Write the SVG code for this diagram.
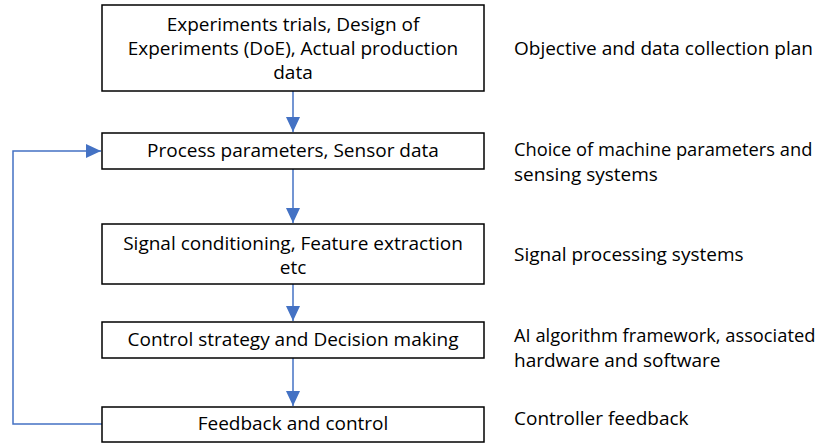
<svg xmlns="http://www.w3.org/2000/svg" width="822" height="443" viewBox="0 0 822 443">
  <style>
    .box { fill: #ffffff; stroke: #000000; stroke-width: 1.5; }
    .lbl { font-family: "Open Sans", Lato, sans-serif; font-size: 19px; fill: #000000; }
    .tight { font-size: 18.3px; }
    .mid { text-anchor: middle; }
    .link { fill: none; stroke: #4472C4; stroke-width: 1.5; }
  </style>
  <defs>
    <marker id="arrowBig" markerWidth="15" markerHeight="14" refX="15" refY="7" orient="auto" markerUnits="userSpaceOnUse" viewBox="0 0 15 14">
      <path d="M0,0 L15,7 L0,14 Z" fill="#4472C4"/>
    </marker>
  </defs>

  <g id="connectors">
    <path class="link" d="M293,91 V132" marker-end="url(#arrowBig)"/>
    <path class="link" d="M293,169 V223" marker-end="url(#arrowBig)"/>
    <path class="link" d="M293,284 V321" marker-end="url(#arrowBig)"/>
    <path class="link" d="M293,358 V406" marker-end="url(#arrowBig)"/>
    <path class="link" d="M103,424 H13 V151 H101" marker-end="url(#arrowBig)"/>
  </g>

  <g id="node-experiments">
    <rect class="box" x="102" y="5" width="382" height="86"/>
    <text class="lbl mid" x="293" y="31">Experiments trials, Design of</text>
    <text class="lbl mid" x="293" y="55">Experiments (DoE), Actual production</text>
    <text class="lbl mid" x="293" y="79">data</text>
  </g>

  <g id="node-process">
    <rect class="box" x="102" y="133" width="382" height="36"/>
    <text class="lbl mid" x="293" y="157">Process parameters, Sensor data</text>
  </g>

  <g id="node-signal">
    <rect class="box" x="102" y="224" width="382" height="60"/>
    <text class="lbl mid" x="293" y="250">Signal conditioning, Feature extraction</text>
    <text class="lbl mid" x="293" y="274">etc</text>
  </g>

  <g id="node-control">
    <rect class="box" x="102" y="322" width="382" height="36"/>
    <text class="lbl mid" x="293" y="346">Control strategy and Decision making</text>
  </g>

  <g id="node-feedback">
    <rect class="box" x="102" y="407" width="382" height="35"/>
    <text class="lbl mid" x="293" y="430">Feedback and control</text>
  </g>

  <g id="notes">
    <text class="lbl" x="514" y="55">Objective and data collection plan</text>
    <text class="lbl tight" x="514" y="156">Choice of machine parameters and</text>
    <text class="lbl" x="514" y="181">sensing systems</text>
    <text class="lbl" x="514" y="261">Signal processing systems</text>
    <text class="lbl tight" x="514" y="342">AI algorithm framework, associated</text>
    <text class="lbl" x="514" y="367">hardware and software</text>
    <text class="lbl" x="514" y="425">Controller feedback</text>
  </g>
</svg>
